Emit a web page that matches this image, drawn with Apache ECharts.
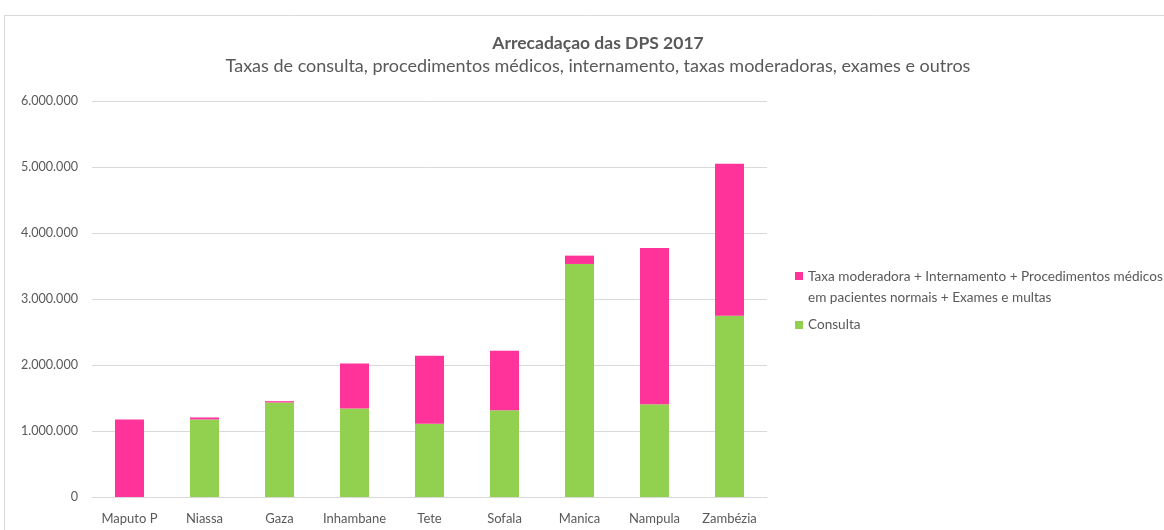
<!DOCTYPE html>
<html>
<head>
<meta charset="utf-8">
<script src="https://cdn.jsdelivr.net/npm/echarts@6/dist/echarts.min.js"></script>
<style>
html,body{margin:0;padding:0;background:#fff;}
#chart{width:1164px;height:530px;}
</style>
</head>
<body>
<div id="chart"></div>
<script>
const categories = ['Maputo P','Niassa','Gaza','Inhambane','Tete','Sofala','Manica','Nampula','Zambézia'];
const consulta = [0, 1175000, 1432000, 1341000, 1108000, 1316000, 3531000, 1407000, 2747000];
const outros = [1174000, 30000, 20000, 683000, 1032000, 900000, 126000, 2367000, 2302000];
const seriesNames = ['Taxa moderadora + Internamento + Procedimentos médicos\nem pacientes normais + Exames e multas', 'Consulta'];
const yTicks = [0, 1000000, 2000000, 3000000, 4000000, 5000000, 6000000];
const titleText = 'Arrecadaçao das DPS 2017';
const subtitleText = 'Taxas de consulta, procedimentos médicos, internamento, taxas moderadoras, exames e outros';

const FONT = 'Lato';
const TXT = '#595959';
function fmt(v){ return String(v).replace(/\B(?=(\d{3})+(?!\d))/g, '.'); }

const chart = echarts.init(document.getElementById('chart'));
chart.setOption({
  animation: false,
  backgroundColor: '#fff',
  textStyle: { fontFamily: FONT },
  graphic: [{
    type: 'rect', shape: { x: 4.5, y: 15.5, width: 1300, height: 700 },
    style: { fill: 'none', stroke: '#d9d9d9', lineWidth: 1 }, silent: true
  }],
  title: {
    text: titleText,
    subtext: subtitleText,
    left: 593, top: 29, textAlign: 'center',
    itemGap: 5,
    textStyle: { fontFamily: FONT, fontSize: 17.5, fontWeight: 'bold', color: TXT },
    subtextStyle: { fontFamily: FONT, fontSize: 18, color: TXT }
  },
  legend: [{
    data: [seriesNames[0]],
    left: 790, top: 261,
    itemWidth: 8, itemHeight: 30, icon: 'path://M0,0h8v8h-8z M0,30 L8,30',
    textStyle: { fontFamily: FONT, fontSize: 13.6, color: TXT, lineHeight: 21 }
  }, {
    data: [seriesNames[1]],
    left: 790, top: 313,
    itemWidth: 8, itemHeight: 8, icon: 'rect',
    textStyle: { fontFamily: FONT, fontSize: 13.6, color: TXT }
  }],
  grid: { left: 92, right: 397, top: 101, bottom: 33, containLabel: false },
  xAxis: {
    type: 'category', data: categories,
    axisLine: { lineStyle: { color: '#d9d9d9' } },
    axisTick: { show: false },
    axisLabel: { fontFamily: FONT, fontSize: 13, color: TXT, margin: 15, interval: 0 }
  },
  yAxis: {
    type: 'value', min: yTicks[0], max: yTicks[yTicks.length - 1], interval: yTicks[1] - yTicks[0],
    axisLine: { show: false }, axisTick: { show: false },
    splitLine: { lineStyle: { color: '#d9d9d9' } },
    axisLabel: { fontFamily: FONT, fontSize: 12.6, color: TXT, margin: 14, formatter: fmt }
  },
  series: [{
    name: seriesNames[1], type: 'bar', stack: 'a', data: consulta,
    barWidth: 29, itemStyle: { color: '#92D050' }
  }, {
    name: seriesNames[0], type: 'bar', stack: 'a', data: outros,
    barWidth: 29, itemStyle: { color: '#FF3399' }
  }]
});
</script>
</body>
</html>
